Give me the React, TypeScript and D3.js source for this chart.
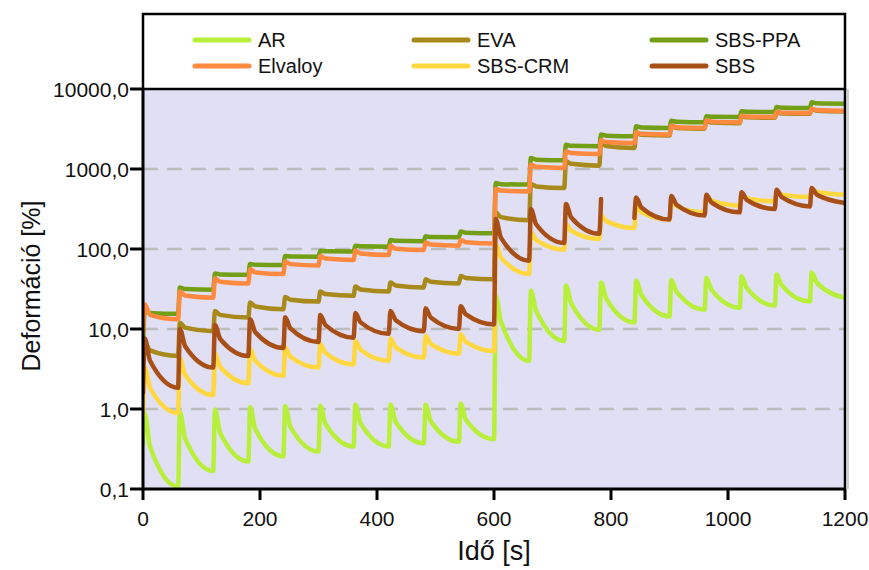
import React from 'react';
import * as d3 from 'd3';

// series order as drawn (later ones sit on top)
const seriesNames = ['AR', 'EVA', 'SBS-PPA', 'Elvaloy', 'SBS-CRM', 'SBS'];
const seriesColors = ['#b8ef3b', '#a8891b', '#729f16', '#ff8a3f', '#ffd83f', '#a84f17'];

// each cycle is 60 s; peak, mid and end of a cycle sit at these offsets
const cycleStarts = [0, 60, 120, 180, 240, 300, 360, 420, 480, 540, 600, 660, 720, 780, 840, 900, 960, 1020, 1080, 1140];
const phaseOffsets = [3, 12, 60];

const xTicks = [0, 200, 400, 600, 800, 1000, 1200];
const yTicks = [0.1, 1, 10, 100, 1000, 10000];

const arStart = 0.36;
const arPeak = [0.88, 0.91, 0.98, 1.05, 1.08, 1.1, 1.13, 1.13, 1.13, 1.16, 26, 30, 35, 38, 40, 41.4, 43.5, 45.7, 48, 51];
const arMid = [0.34, 0.43, 0.5, 0.56, 0.6, 0.65, 0.66, 0.69, 0.7, 0.73, 12.3, 16.9, 21, 24, 26.6, 29.3, 30.9, 32.6, 35.1, 38];
const arEnd = [0.107, 0.168, 0.22, 0.255, 0.294, 0.34, 0.34, 0.374, 0.39, 0.42, 4.0, 7.1, 9.8, 12.1, 14.4, 17.5, 18.5, 19.6, 22, 24.5];

const evaStart = 5.5;
const evaPeak = [6.8, 12, 16.8, 21.4, 25.2, 29.4, 34, 38, 42, 46, 287, 650, 1250, 2115, 2800, 3400, 3960, 4540, 5060, 5580];
const evaMid = [5.4, 10.4, 15, 19.1, 23.2, 27.3, 31.2, 34.9, 38.9, 43.5, 250, 606, 1160, 1940, 2680, 3250, 3820, 4420, 4950, 5330];
const evaEnd = [4.6, 9.4, 13.9, 17.7, 22, 26, 29.5, 33, 37, 42, 229, 579, 1100, 1830, 2620, 3180, 3740, 4360, 4900, 5230];

const ppaStart = 6.2;
const ppaPeak = [16.8, 33, 49.5, 65, 82, 95, 110, 130, 144, 166, 668, 1373, 2014, 2690, 3420, 4020, 4550, 5260, 5960, 6810];
const ppaMid = [15.9, 31.6, 48.1, 63.6, 80.6, 93.6, 108, 126.5, 141, 159.6, 647, 1309, 1947, 2598, 3307, 3886, 4487, 5190, 5840, 6620];
const ppaEnd = [15.5, 31, 47.6, 63, 80, 93, 107, 125, 140, 157, 638, 1283, 1920, 2560, 3260, 3830, 4460, 5160, 5790, 6540];

const elvStart = 9;
const elvPeak = [20.4, 29.5, 42.9, 56, 70, 82, 95, 110, 121, 130, 562, 1133, 1660, 2280, 2870, 3480, 4060, 4640, 5160, 5680];
const elvMid = [15, 26.2, 39, 51, 64.7, 76, 87.7, 101, 113.7, 121.4, 537, 1064, 1580, 2170, 2750, 3330, 3910, 4520, 5060, 5460];
const elvEnd = [13.2, 24.6, 37, 48.6, 62, 73, 84, 97, 110, 117, 525, 1030, 1540, 2115, 2690, 3260, 3830, 4460, 5010, 5350];

const crmStart = 0.83;
const crmPeak = [3.3, 4.3, 4.9, 5.7, 5.9, 6.5, 7.1, 7.6, 8.2, 8.6, 115, 163, 205, 262, 341, 395, 450, 464, 503, 552];
const crmMid = [1.83, 2.67, 3.35, 4.0, 4.5, 5.0, 5.5, 5.9, 6.5, 6.9, 78, 130, 169, 223, 287, 342, 401, 432, 477, 517];
const crmEnd = [0.89, 1.5, 2.1, 2.6, 3.3, 3.6, 4.0, 4.4, 4.9, 5.3, 48.7, 98, 133, 183, 233, 287, 348, 395, 447, 478];

// SBS has a gap in the 14th cycle
const sbsStart = 1.6;
const sbsPeak = [7.6, 10, 11.2, 13.2, 14, 15, 15.9, 16.8, 18.2, 19.2, 237, 316, 365, 422, 440, 460, 478, 512, 552, 579];
const sbsMid = [4.0, 6.1, 7.5, 9.1, 10.2, 11.2, 12.1, 12.9, 13.9, 15.2, 138, 204, 248, null, 330, 357, 380, 412, 444, 477];
const sbsEnd = [1.84, 3.3, 4.6, 5.8, 6.9, 7.8, 8.7, 9.4, 10, 11.4, 71.5, 119, 155, 244, 233, 262, 287, 316, 341, 376];

const seriesData = [
  [arStart, arPeak, arMid, arEnd],
  [evaStart, evaPeak, evaMid, evaEnd],
  [ppaStart, ppaPeak, ppaMid, ppaEnd],
  [elvStart, elvPeak, elvMid, elvEnd],
  [crmStart, crmPeak, crmMid, crmEnd],
  [sbsStart, sbsPeak, sbsMid, sbsEnd],
];

type Pt = { t: number; v: number | null };

const buildPoints = (start, peak, mid, end): Pt[] => {
  const pts: Pt[] = [{ t: 0, v: start }];
  cycleStarts.forEach((c, i) => {
    pts.push({ t: c + phaseOffsets[0], v: peak[i] });
    pts.push({ t: c + phaseOffsets[1], v: mid[i] });
    pts.push({ t: c + phaseOffsets[2], v: end[i] });
  });
  return pts;
};

const huLocale = d3.formatLocale({ decimal: ',', thousands: ' ', grouping: [3], currency: ['', ' Ft'] });
const fmtY = huLocale.format('.1f');

const App = () => {
  const W = 869;
  const H = 570;
  const left = 143;
  const right = 845;
  const top = 89;
  const bottom = 489;

  const x = d3.scaleLinear().domain([0, 1200]).range([left, right]);
  const y = d3.scaleLog().domain([0.1, 10000]).range([bottom, top]);

  const line = d3
    .line<Pt>()
    .defined(d => d.v != null)
    .x(d => x(d.t))
    .y(d => y(Math.max(0.05, d.v as number)))
    .curve(d3.curveMonotoneX);

  const font = '"Liberation Sans", Arial, sans-serif';

  const legendCols = [195, 414, 652];
  const legendRows = [40, 66];

  return (
    <svg width={W} height={H} style={{ position: 'absolute', left: 0, top: 0, background: '#fff' }} fontFamily={font}>
      <defs>
        <clipPath id="plotClip">
          <rect x={left} y={top} width={right - left} height={bottom - top} />
        </clipPath>
      </defs>

      <rect x={left} y={top} width={right - left} height={bottom - top} fill="#e1dff3" />

      {yTicks.slice(1, -1).map(t => (
        <line key={t} x1={left} x2={right} y1={y(t)} y2={y(t)} stroke="#bdbdbd" strokeWidth={2.5} strokeDasharray="15,9" />
      ))}

      <g clipPath="url(#plotClip)">
        {seriesData.map(([s, p, m, e], i) => (
          <path
            key={seriesNames[i]}
            d={line(buildPoints(s, p, m, e)) || ''}
            fill="none"
            stroke={seriesColors[i]}
            strokeWidth={4.5}
            strokeLinejoin="round"
            strokeLinecap="round"
          />
        ))}
      </g>

      {/* frame */}
      <line x1={right + 3} x2={right + 3} y1={top} y2={bottom} stroke="#cfcfcf" strokeWidth={2} />
      <line x1={right} x2={right} y1={top - 1} y2={bottom} stroke="#000" strokeWidth={2.5} />
      <line x1={left} x2={left} y1={top - 1} y2={bottom + 1.5} stroke="#000" strokeWidth={3} />
      <line x1={left - 1.5} x2={right + 1} y1={bottom} y2={bottom} stroke="#000" strokeWidth={3} />

      {yTicks.map(t => (
        <g key={t}>
          <line x1={left - 13} x2={left} y1={y(t)} y2={y(t)} stroke="#000" strokeWidth={3} />
          <text x={left - 14} y={y(t) + 8} textAnchor="end" fontSize={21} fill="#111">
            {fmtY(t)}
          </text>
        </g>
      ))}

      {xTicks.map(t => (
        <g key={t}>
          <line x1={x(t)} x2={x(t)} y1={bottom} y2={bottom + 11} stroke="#000" strokeWidth={3} />
          <text x={x(t)} y={bottom + 37} textAnchor="middle" fontSize={21} fill="#111">
            {t}
          </text>
        </g>
      ))}

      <text x={494} y={560} textAnchor="middle" fontSize={27} fill="#111">
        Idő [s]
      </text>
      <text transform="translate(40,286) rotate(-90)" textAnchor="middle" fontSize={25} fill="#111">
        Deformáció [%]
      </text>

      {/* legend, laid out row by row */}
      <rect x={left} y={14} width={right - left} height={top - 14} fill="#fff" stroke="#000" strokeWidth={2.5} />
      {seriesNames.map((name, i) => {
        const cx = legendCols[i % 3];
        const cy = legendRows[Math.floor(i / 3)];
        return (
          <g key={name}>
            <line x1={cx} x2={cx + 54} y1={cy} y2={cy} stroke={seriesColors[i]} strokeWidth={5} strokeLinecap="round" />
            <text x={cx + 63} y={cy + 7} fontSize={20} fill="#111">
              {name}
            </text>
          </g>
        );
      })}
    </svg>
  );
};

export default App;
